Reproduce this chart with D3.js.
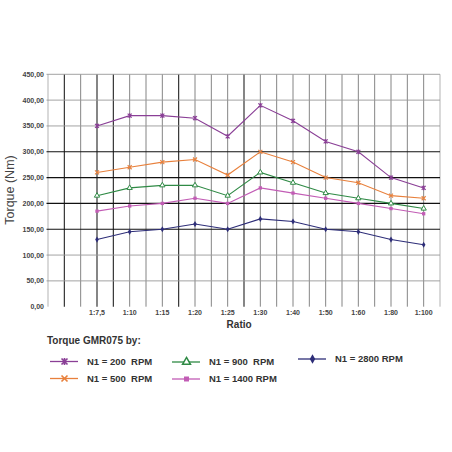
<!DOCTYPE html>
<html>
<head>
<meta charset="utf-8">
<script src="https://cdn.jsdelivr.net/npm/d3@7"></script>
<style>
  body { margin: 0; background: #fff; }
  text { font-family: "Liberation Sans", Arial, sans-serif; }
</style>
</head>
<body>
<div class="canvas"></div>
<script>
const ratios = ['1:7,5', '1:10', '1:15', '1:20', '1:25', '1:30', '1:40', '1:50', '1:60', '1:80', '1:100'];
const yTicks = [0, 50, 100, 150, 200, 250, 300, 350, 400, 450];

const rpm200  = [350, 370, 370, 365, 330, 390, 360, 320, 300, 250, 230];
const rpm500  = [260, 270, 280, 285, 255, 300, 280, 250, 240, 215, 210];
const rpm900  = [215, 230, 235, 235, 215, 260, 240, 220, 210, 200, 190];
const rpm1400 = [185, 195, 200, 210, 200, 230, 220, 210, 200, 190, 180];
const rpm2800 = [130, 145, 150, 160, 150, 170, 165, 150, 145, 130, 120];

const seriesNames = ['N1 = 200  RPM', 'N1 = 500  RPM', 'N1 = 900  RPM', 'N1 = 1400 RPM', 'N1 = 2800 RPM'];

const series = [
    { name: seriesNames[0], values: rpm200,  color: '#8a3f96', marker: 'star' },
    { name: seriesNames[1], values: rpm500,  color: '#e8803c', marker: 'cross' },
    { name: seriesNames[2], values: rpm900,  color: '#2f8a45', marker: 'triangle' },
    { name: seriesNames[3], values: rpm1400, color: '#c25cb5', marker: 'square' },
    { name: seriesNames[4], values: rpm2800, color: '#2d2d78', marker: 'diamond' }
];

const svgWidth = 452;
const svgHeight = 452;

const svg = d3.select('.canvas')
    .append('svg')
        .attr('width', svgWidth)
        .attr('height', svgHeight);

// plot area in page pixels
const plot = { left: 48, right: 440, top: 74.3, bottom: 306.7 };

const x = d3.scaleLinear().domain([-1.5, 10.5]).range([plot.left, plot.right]);
const y = d3.scaleLinear().domain([0, 450]).range([plot.bottom, plot.top]);

const grid = svg.append('g').attr('class', 'grid');

// vertical grid, one line every half step
const darkV = [-1, 0, 0.5, 2.5, 4.5];
const vSteps = d3.range(-1.5, 10.51, 0.5);
grid.selectAll('line.v')
    .data(vSteps)
    .enter().append('line')
        .attr('class', 'v')
        .attr('x1', d => x(d)).attr('x2', d => x(d))
        .attr('y1', plot.top).attr('y2', y(0))
        .attr('stroke', d => (d == -1.5 || d == 10.5) ? '#aaa' : (darkV.includes(d) ? '#222' : '#777'))
        .attr('stroke-width', d => darkV.includes(d) ? 1.1 : 0.9);

// horizontal grid
const darkH = [150, 200, 250, 300];
grid.selectAll('line.h')
    .data(yTicks.filter(t => t > 0))
    .enter().append('line')
        .attr('class', 'h')
        .attr('x1', plot.left - 1.5).attr('x2', plot.right)
        .attr('y1', d => y(d)).attr('y2', d => y(d))
        .attr('stroke', d => darkH.includes(d) ? '#111' : '#999')
        .attr('stroke-width', d => darkH.includes(d) ? 1.1 : 0.9);

// y labels
svg.append('g').selectAll('text')
    .data(yTicks)
    .enter().append('text')
        .attr('x', 44)
        .attr('y', d => y(d))
        .attr('dy', '0.35em')
        .attr('text-anchor', 'end')
        .attr('font-size', 7)
        .attr('font-weight', 'bold')
        .attr('fill', '#444')
        .text(d => d3.format('.2f')(d).replace('.', ','));

// x labels
svg.append('g').selectAll('text')
    .data(ratios)
    .enter().append('text')
        .attr('x', (d, i) => x(i))
        .attr('y', 315)
        .attr('text-anchor', 'middle')
        .attr('font-size', 7)
        .attr('font-weight', 'bold')
        .attr('fill', '#444')
        .text(d => d);

svg.append('text')
    .attr('x', x(4.35))
    .attr('y', 328)
    .attr('text-anchor', 'middle')
    .attr('font-size', 10)
    .attr('font-weight', 'bold')
    .attr('fill', '#333')
    .text('Ratio');

svg.append('text')
    .attr('transform', 'translate(14,190) rotate(-90)')
    .attr('text-anchor', 'middle')
    .attr('font-size', 12.5)
    .attr('fill', '#444')
    .text('Torque (Nm)');

// marker drawing
const drawMarker = (g, type, color) => {
    const s = 2;
    if (type == 'star') {
        g.append('path')
            .attr('d', `M${-s},${-s}L${s},${s}M${-s},${s}L${s},${-s}M0,${-s - 0.4}L0,${s + 0.4}`)
            .attr('stroke', color).attr('stroke-width', 1.1).attr('fill', 'none');
    } else if (type == 'cross') {
        g.append('path')
            .attr('d', `M${-s},${-s}L${s},${s}M${-s},${s}L${s},${-s}`)
            .attr('stroke', color).attr('stroke-width', 1.1).attr('fill', 'none');
    } else if (type == 'triangle') {
        g.append('path')
            .attr('d', d3.symbol(d3.symbolTriangle, 12)())
            .attr('stroke', color).attr('stroke-width', 1).attr('fill', '#fff');
    } else if (type == 'square') {
        g.append('path')
            .attr('d', d3.symbol(d3.symbolSquare, 11)())
            .attr('fill', color);
    } else {
        g.append('path')
            .attr('d', d3.symbol(d3.symbolDiamond, 11)())
            .attr('fill', color);
    }
};

const line = d3.line()
    .x((d, i) => x(i))
    .y(d => y(d));

series.forEach(s => {
    const g = svg.append('g');
    g.append('path')
        .datum(s.values)
        .attr('fill', 'none')
        .attr('stroke', s.color)
        .attr('stroke-width', 1.1)
        .attr('d', line);
    s.values.forEach((v, i) => {
        const m = g.append('g').attr('transform', `translate(${x(i)},${y(v)})`);
        drawMarker(m, s.marker, s.color);
    });
});

// legend
svg.append('text')
    .attr('x', 47)
    .attr('y', 344)
    .attr('font-size', 10)
    .attr('font-weight', 'bold')
    .attr('fill', '#333')
    .text('Torque GMR075 by:');

const legendPos = [
    { x: 50, y: 361.5 },
    { x: 50, y: 378.5 },
    { x: 172, y: 362 },
    { x: 172, y: 379 },
    { x: 298, y: 359 }
];

series.forEach((s, i) => {
    const p = legendPos[i];
    const g = svg.append('g').attr('transform', `translate(${p.x},${p.y})`);
    g.append('line')
        .attr('x1', 0).attr('x2', 28)
        .attr('stroke', s.color).attr('stroke-width', 1.3);
    const m = g.append('g').attr('transform', 'translate(14.5,0) scale(1.5)');
    drawMarker(m, s.marker, s.color);
    g.append('text')
        .attr('x', 37)
        .attr('dy', '0.35em')
        .attr('font-size', 9.5)
        .attr('font-weight', 'bold')
        .attr('fill', '#333')
        .attr('xml:space', 'preserve')
        .style('white-space', 'pre')
        .text(s.name);
});
</script>
</body>
</html>
